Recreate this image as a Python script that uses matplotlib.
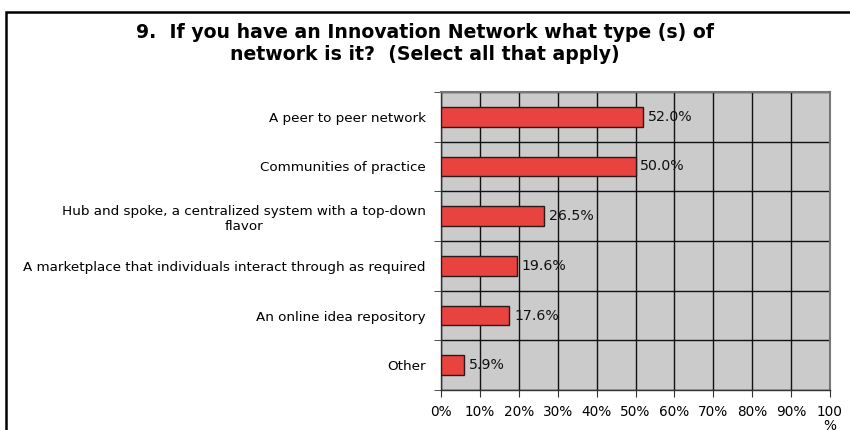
import numpy as np
import matplotlib.pyplot as plt
from matplotlib.patches import Rectangle

categories = [
    "A peer to peer network",
    "Communities of practice",
    "Hub and spoke, a centralized system with a top-down\nflavor",
    "A marketplace that individuals interact through as required",
    "An online idea repository",
    "Other",
]
values = [52.0, 50.0, 26.5, 19.6, 17.6, 5.9]
xticks = np.arange(0, 101, 10)
xtick_labels = [f"{t}%" for t in xticks[:-1]] + ["100\n%"]

plt.rcParams["font.family"] = ["DejaVu Sans"]

fig = plt.figure(figsize=(8.5, 4.3), dpi=100)
ax = fig.add_axes([441 / 850, 1 - 390 / 430, 389 / 850, 298 / 430])

y = np.arange(len(categories))
ax.barh(y, values, height=0.39, color="#E8433F", edgecolor="#2a1a1a",
        linewidth=1.0, zorder=3)
for yi, v in zip(y, values):
    ax.text(v + 1.2, yi, f"{v:.1f}%", va="center", ha="left", fontsize=10.2,
            color="#111111", zorder=4)

ax.set_xlim(0, 100)
ax.set_ylim(len(categories) - 0.5, -0.5)
ax.set_facecolor("#CBCBCB")

ax.set_xticks(xticks)
ax.set_xticklabels(xtick_labels, fontsize=9.8, linespacing=0.95)
for lab in ax.get_xticklabels():
    lab.set_verticalalignment("top")
    lab.set_multialignment("center")
ax.set_yticks(y)
ax.set_yticklabels(categories, fontsize=9.7)
ax.set_yticks(np.arange(len(categories) + 1) - 0.5, minor=True)
for lab in ax.get_yticklabels():
    lab.set_multialignment("center")

ax.tick_params(axis="y", which="major", length=0, pad=11)
ax.tick_params(axis="y", which="minor", length=5, color="#333333")
ax.tick_params(axis="x", which="major", length=5, color="#333333", pad=6)

ax.grid(axis="x", which="major", color="#111111", linewidth=1.0, zorder=1)
ax.grid(axis="y", which="minor", color="#111111", linewidth=1.0, zorder=1)
ax.set_axisbelow(True)

for side in ["top", "right"]:
    ax.spines[side].set_color("#777777")
    ax.spines[side].set_linewidth(1.5)
for side in ["left", "bottom"]:
    ax.spines[side].set_color("#333333")
    ax.spines[side].set_linewidth(1.0)

fig.text(0.5, 1 - 23 / 430,
         "9.  If you have an Innovation Network what type (s) of\nnetwork is it?  (Select all that apply)",
         ha="center", va="top", fontsize=13.6, fontweight="bold",
         linespacing=1.2)

# outer frame around the chart
fig.patches.append(Rectangle((6 / 850, -0.1), 1.2, 1 - 12 / 430 + 0.1,
                             transform=fig.transFigure, fill=False,
                             edgecolor="black", linewidth=1.8))

fig.savefig("out.png", dpi=100)
